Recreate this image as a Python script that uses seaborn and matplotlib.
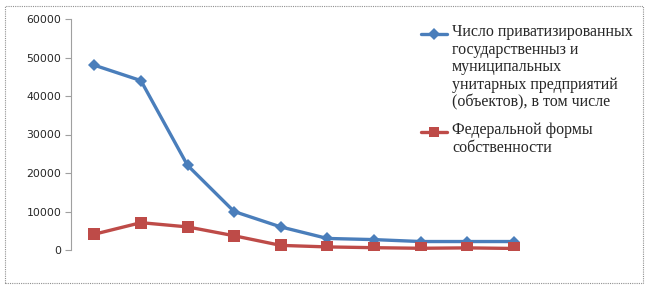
import matplotlib
matplotlib.use("Agg")
import matplotlib.pyplot as plt
import seaborn as sns
import pandas as pd
import numpy as np
from matplotlib.patches import Rectangle

categories = list(range(1, 11))
total_values = [48000, 44000, 22000, 10000, 6000, 3000, 2700, 2200, 2200, 2200]
federal_values = [4100, 7100, 6000, 3700, 1200, 800, 600, 450, 550, 400]
series_names = [
    "Число приватизированных\nгосударственныз и\nмуниципальных\nунитарных предприятий\n(объектов), в том числе",
    "Федеральной формы\nсобственности",
]
yticks = [0, 10000, 20000, 30000, 40000, 50000, 60000]

df = pd.DataFrame({
    "x": categories * 2,
    "y": total_values + federal_values,
    "series": [series_names[0]] * len(categories) + [series_names[1]] * len(categories),
})

sns.set_style("white")
DPI = 100
fig = plt.figure(figsize=(6.48, 2.90), dpi=DPI)
ax = fig.add_axes([71 / 648, 1 - 250 / 290, (537 - 71) / 648, (250 - 19) / 290])

palette = {series_names[0]: "#4A7EBB", series_names[1]: "#BE4B48"}
markers = {series_names[0]: "D", series_names[1]: "s"}
sns.lineplot(data=df, x="x", y="y", hue="series", style="series", palette=palette,
             markers=markers, dashes=False, linewidth=2.4, markersize=6.5,
             markeredgewidth=0, ax=ax)
for line in ax.get_lines():
    if line.get_marker() == "D":
        line.set_markersize(6.5)
    elif line.get_marker() == "s":
        line.set_markersize(8.5)

ax.set_xlim(0.5, 10.5)
ax.set_ylim(0, 60000)
ax.set_yticks(yticks)
ax.set_yticklabels([str(t) for t in yticks], fontsize=7.8, family="DejaVu Sans")
ax.set_xticks([])
ax.set_xlabel("")
ax.set_ylabel("")
for s in ["top", "right", "bottom"]:
    ax.spines[s].set_visible(False)
ax.spines["left"].set_color("#A0A0A0")
ax.spines["left"].set_linewidth(0.8)
ax.tick_params(axis="y", length=4, width=0.8, color="#A0A0A0", pad=3, left=True)

handles, labels = ax.get_legend_handles_labels()
leg = ax.legend(handles, labels, loc="upper left", bbox_to_anchor=(413 / 648, 1 - 16 / 290),
                bbox_transform=fig.transFigure, frameon=False,
                prop={"family": "Liberation Serif", "size": 11.5},
                handlelength=1.6, handletextpad=0.35, labelspacing=0.75, borderpad=0)
for t in leg.get_texts():
    t.set_linespacing(1.13)
for h in leg.legend_handles:
    h.set_markersize(6 if h.get_marker() == "D" else 7.5)

fig.canvas.draw()
renderer = fig.canvas.get_renderer()
fs_px = 11.5 * DPI / 72
for t, h in zip(leg.get_texts(), leg.legend_handles):
    tb = t.get_window_extent(renderer)
    hb = h.get_window_extent(renderer)
    target = tb.y1 - fs_px * 0.62
    cur = (hb.y0 + hb.y1) / 2
    shift_pts = (target - cur) * 72 / DPI
    h.set_ydata(np.asarray(h.get_ydata(), dtype=float) + shift_pts)

fig.patches.append(Rectangle((5 / 648, 7 / 290), 638 / 648, 277 / 290, transform=fig.transFigure,
                             fill=False, edgecolor="#909090", linestyle=(0, (1, 1)), linewidth=0.8))

fig.savefig("out.png", dpi=DPI)
